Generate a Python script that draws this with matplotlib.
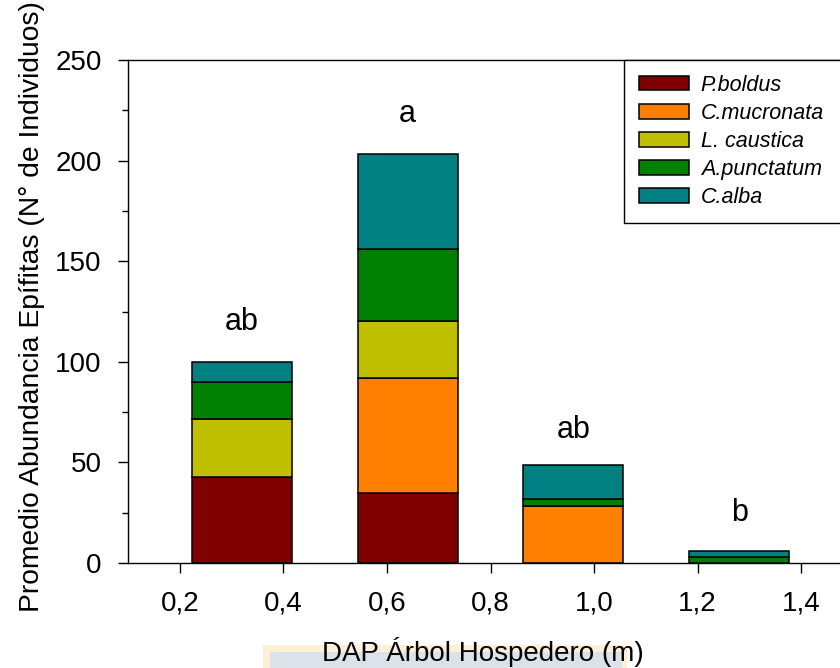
import matplotlib
matplotlib.use("Agg")
import matplotlib.pyplot as plt
from matplotlib.patches import Rectangle
import numpy as np

plt.rcParams['font.family'] = ['Liberation Sans', 'DejaVu Sans']

# Data
dap = [0.32, 0.64, 0.96, 1.28]
species = ["P.boldus", "C.mucronata", "L. caustica", "A.punctatum", "C.alba"]
p_boldus = [42.9, 34.6, 0, 0]
c_mucronata = [0, 57.2, 28.3, 0]
l_caustica = [28.5, 28.6, 0, 0]
a_punctatum = [18.6, 35.5, 3.4, 3.1]
c_alba = [10.0, 47.4, 17.0, 2.7]
letters = ["ab", "a", "ab", "b"]
letter_y = [120, 223, 66, 25]
xticks = [0.2, 0.4, 0.6, 0.8, 1.0, 1.2, 1.4]
xtick_labels = ["0,2", "0,4", "0,6", "0,8", "1,0", "1,2", "1,4"]

colors = ["#800000", "#FF8000", "#C0C000", "#008000", "#008080"]
series = [p_boldus, c_mucronata, l_caustica, a_punctatum, c_alba]

fig = plt.figure(figsize=(8.4, 6.68), dpi=100)
ax = fig.add_axes([128/840, 1 - 563/668, 725/840, 503/668])

bottom = np.zeros(len(dap))
for vals, col, name in zip(series, colors, species):
    v = np.array(vals, dtype=float)
    ax.bar(dap, v, width=0.193, bottom=bottom, color=col, edgecolor="black",
           linewidth=1.1, label=name, zorder=2)
    bottom += v

for x, t, y in zip(dap, letters, letter_y):
    ax.text(x, y, t, ha="center", va="center", fontsize=22)

ax.set_xlim(0.1, 1.5)
ax.set_ylim(0, 250)
ax.set_xticks(xticks)
ax.set_xticklabels(xtick_labels)
ax.set_yticks([0, 50, 100, 150, 200, 250])
ax.set_yticks(np.arange(25, 250, 50), minor=True)
ax.tick_params(axis="both", which="major", direction="out", length=7, width=1,
               labelsize=20)
ax.tick_params(axis="y", which="major", pad=12)
ax.tick_params(axis="y", which="minor", direction="out", length=4, width=1)
ax.tick_params(axis="x", pad=13)

for s in ["left", "bottom", "top", "right"]:
    ax.spines[s].set_linewidth(1.0)

ax.set_ylabel("Promedio Abundancia Epífitas (N° de Individuos)", fontsize=20.3)
ax.yaxis.set_label_coords(-0.114, 0.509)
ax.set_xlabel("DAP Árbol Hospedero (m)", fontsize=20)
ax.xaxis.set_label_coords(0.490, -0.147)

leg = ax.legend(bbox_to_anchor=(0.684, 0.0, 0.316, 1.0), loc="upper left",
                mode="expand", borderaxespad=0, fancybox=False,
                edgecolor="black", framealpha=1,
                handlelength=2.33, handleheight=0.68, handletextpad=0.56,
                labelspacing=0.33, borderpad=0.68,
                prop={"style": "italic", "size": 15.5})
leg.get_frame().set_linewidth(1.0)

# faint watermark box behind the x label
fig.patches.append(Rectangle((263/840, 0), 364/840, 23/668, transform=fig.transFigure,
                             facecolor="#FEF0D6", edgecolor="none", zorder=-1))
fig.patches.append(Rectangle((270/840, 0), 352/840, 16/668, transform=fig.transFigure,
                             facecolor="#DCE2EA", edgecolor="none", zorder=-1))

fig.savefig("out.png", dpi=100)
